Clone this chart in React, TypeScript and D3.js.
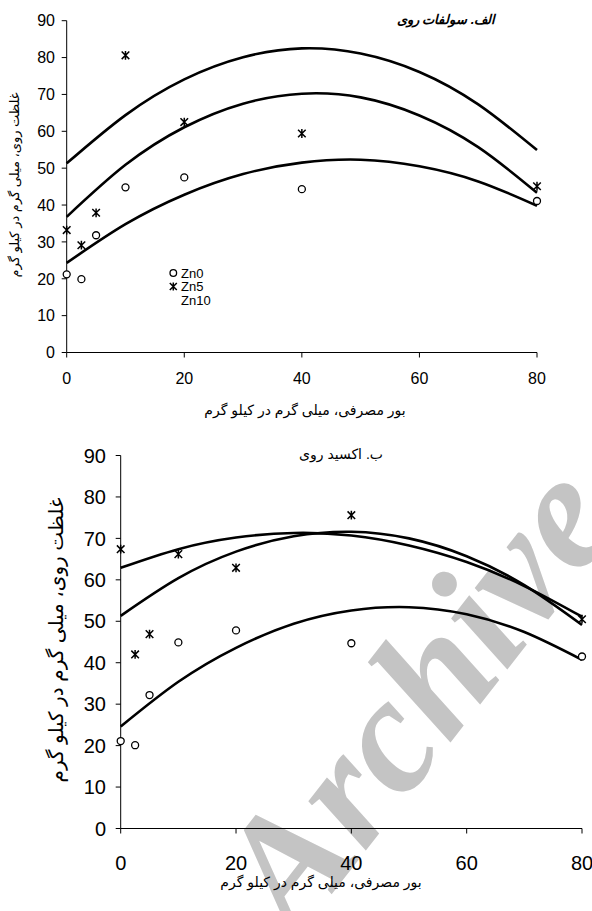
import React from "react";
import * as d3 from "d3";

// ---------- data ----------
const doses = [0, 2.5, 5, 10, 20, 40, 80];
const sulfateZn0 = [21.2, 19.9, 31.8, 44.8, 47.5, 44.3, 41.1];
const sulfateZn5 = [33.2, 29.1, 37.9, 80.6, 62.5, 59.4, 45.1];
const oxideZn0 = [21.1, 20.1, 32.2, 44.9, 47.8, 44.7, 41.5];
const oxideZn5 = [67.4, 42.0, 46.9, 66.2, 62.9, 75.6, 50.5];

// fitted trend lines at x = 0,10,...,80
const fitX = [0, 10, 20, 30, 40, 50, 60, 70, 80];
const sulfateFitZn0 = [24.3, 34.8, 42.8, 48.4, 51.5, 52.3, 50.5, 46.4, 39.8];
const sulfateFitZn5 = [36.8, 50.9, 61.1, 67.5, 70.2, 69.2, 64.3, 55.7, 43.3];
const sulfateFitZn10 = [51.3, 64.4, 74.1, 80.1, 82.5, 81.1, 76.1, 67.3, 54.9];
const oxideFitZn0 = [24.6, 35.4, 43.6, 49.4, 52.6, 53.4, 51.7, 47.4, 40.7];
const oxideFitZn5 = [51.3, 60.4, 66.8, 70.5, 71.6, 70.0, 65.7, 58.7, 49.1];
const oxideFitZn10 = [62.9, 67.4, 70.2, 71.3, 70.7, 68.3, 64.3, 58.5, 51.1];

const xTicks = [0, 20, 40, 60, 80];
const yTicks = [0, 10, 20, 30, 40, 50, 60, 70, 80, 90];
const legendLabels = ["Zn0", "Zn5", "Zn10"];

const titleTop = "الف. سولفات روی";
const titleBottom = "ب. اکسید روی";
const yLabel = "غلظت روی، میلی گرم در کیلو گرم";
const xLabel = "بور مصرفی، میلی گرم در کیلو گرم";

const FONT = "'Liberation Sans', Arial, 'DejaVu Sans', sans-serif";

function Star({ x, y, s = 3.8 }: { x: number; y: number; s?: number }) {
  return (
    <path
      d={`M${x - s},${y - s}L${x + s},${y + s}M${x - s},${y + s}L${x + s},${y - s}M${x},${y - s - 0.6}L${x},${y + s + 0.6}`}
      stroke="#000"
      strokeWidth={1.5}
      fill="none"
    />
  );
}

function Panel(props: {
  x0: number; x1: number; y0: number; y1: number;
  tickFont: number; xLabelGap: number; yLabelRight: number;
  zn0: number[]; zn5: number[]; fits: number[][];
}) {
  const { x0, x1, y0, y1, tickFont, xLabelGap, yLabelRight, zn0, zn5, fits } = props;
  const x = d3.scaleLinear().domain([0, 80]).range([x0, x1]);
  const y = d3.scaleLinear().domain([0, 90]).range([y0, y1]);
  const line = d3
    .line<number>()
    .x((_, i) => x(fitX[i]))
    .y((d) => y(d))
    .curve(d3.curveNatural);
  return (
    <g fontFamily={FONT}>
      {/* axes */}
      <line x1={x0} x2={x0} y1={y1} y2={y0} stroke="#000" strokeWidth={1} />
      <line x1={x0} x2={x1} y1={y0} y2={y0} stroke="#000" strokeWidth={1.2} />
      {yTicks.map((t) => (
        <g key={"y" + t}>
          <line x1={x0 - 5} x2={x0} y1={y(t)} y2={y(t)} stroke="#000" />
          <text x={yLabelRight} y={y(t)} dy="0.36em" textAnchor="end" fontSize={tickFont}>
            {t}
          </text>
        </g>
      ))}
      {xTicks.map((t) => (
        <g key={"x" + t}>
          <line x1={x(t)} x2={x(t)} y1={y0} y2={y0 + 5} stroke="#000" />
          <text x={x(t)} y={y0 + xLabelGap} textAnchor="middle" fontSize={tickFont}>
            {t}
          </text>
        </g>
      ))}
      {fits.map((f, i) => (
        <path key={"f" + i} d={line(f) || ""} fill="none" stroke="#000" strokeWidth={2.6} />
      ))}
      {zn0.map((v, i) => (
        <circle key={"c" + i} cx={x(doses[i])} cy={y(v)} r={3.5} fill="#fff" stroke="#000" strokeWidth={1.3} />
      ))}
      {zn5.map((v, i) => (
        <Star key={"s" + i} x={x(doses[i])} y={y(v)} />
      ))}
    </g>
  );
}

export default function App() {
  return (
    <svg
      width={592}
      height={911}
      style={{ position: "absolute", left: 0, top: 0, background: "#fff" }}
    >
      <rect width={592} height={911} fill="#fff" />
      {/* watermark */}
      <text
        transform="translate(296,940) rotate(-52)"
        fontFamily="'Liberation Serif', 'DejaVu Serif', serif"
        fontStyle="italic"
        fontWeight="bold"
        fontSize={165}
        fill="#c4c4c4"
      >
        Archive
      </text>

      {/* top panel */}
      <Panel
        x0={66.7} x1={537} y0={352.5} y1={20.7}
        tickFont={16} xLabelGap={31} yLabelRight={55}
        zn0={sulfateZn0} zn5={sulfateZn5}
        fits={[sulfateFitZn0, sulfateFitZn5, sulfateFitZn10]}
      />
      <text x={446} y={24} textAnchor="middle" fontSize={13} fontStyle="italic" fontWeight="bold" fontFamily={FONT} direction="rtl">
        {titleTop}
      </text>
      <text transform="translate(19,185) rotate(-90)" textAnchor="middle" fontSize={13} fontFamily={FONT} direction="rtl">
        {yLabel}
      </text>
      <text x={305} y={415} textAnchor="middle" fontSize={14} fontFamily={FONT} direction="rtl">
        {xLabel}
      </text>
      {/* legend */}
      <g fontFamily={FONT} fontSize={13}>
        <circle cx={173.3} cy={273} r={3.3} fill="#fff" stroke="#000" strokeWidth={1.3} />
        <Star x={173.3} y={286.5} s={3.5} />
        {legendLabels.map((l, i) => (
          <text key={l} x={181} y={277.5 + i * 13.8}>
            {l}
          </text>
        ))}
      </g>

      {/* bottom panel */}
      <Panel
        x0={120.7} x1={582} y0={828.5} y1={455.5}
        tickFont={20} xLabelGap={41} yLabelRight={106}
        zn0={oxideZn0} zn5={oxideZn5}
        fits={[oxideFitZn0, oxideFitZn5, oxideFitZn10]}
      />
      <text x={341} y={459} textAnchor="middle" fontSize={14} fontFamily={FONT} direction="rtl">
        {titleBottom}
      </text>
      <text transform="translate(63,640) rotate(-90)" textAnchor="middle" fontSize={20} fontFamily={FONT} direction="rtl">
        {yLabel}
      </text>
      <text x={321} y={887} textAnchor="middle" fontSize={14} fontFamily={FONT} direction="rtl">
        {xLabel}
      </text>
    </svg>
  );
}
